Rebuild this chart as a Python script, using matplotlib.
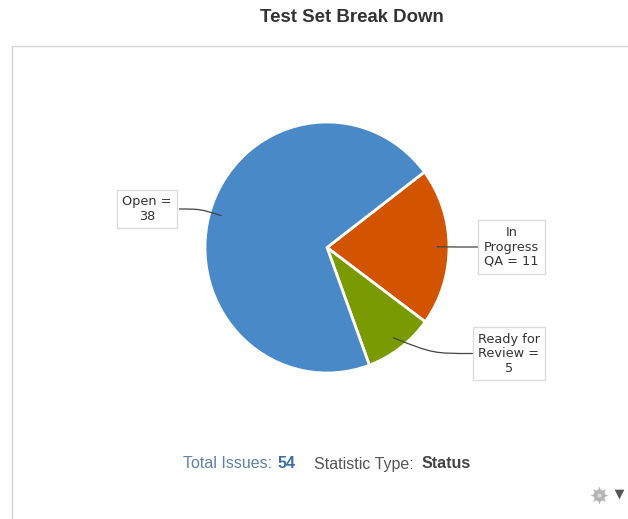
import numpy as np
import matplotlib
matplotlib.use("Agg")
import matplotlib.pyplot as plt
from matplotlib.patches import PathPatch, Rectangle
from matplotlib.path import Path

W, H = 628, 519
statuses = ["In Progress QA", "Ready for Review", "Open"]
counts = [11, 5, 38]
labels = ["In\nProgress\nQA = 11", "Ready for\nReview =\n5", "Open =\n38"]
colors = ["#d35400", "#7a9a01", "#4a89c8"]

# pie bounds in pixels from top left, slightly taller than wide like the reference
left, top, right, bottom = 205, 122, 449, 373
cx, cy = (left + right) / 2, (top + bottom) / 2
rx, ry = (right - left) / 2, (bottom - top) / 2
# label box in pixels from top left: x0, y0, x1, y1
boxes = [(478, 220, 545, 274), (473, 327, 545, 380), (117, 190, 177, 228)]


def py(y):
    return H - y


fig = plt.figure(figsize=(W / 100, H / 100), dpi=100)
ax = fig.add_axes([0, 0, 1, 1])
ax.set_xlim(0, W)
ax.set_ylim(0, H)
ax.axis("off")

ax_pie = fig.add_axes([left / W, py(bottom) / H, (right - left) / W, (bottom - top) / H], zorder=1)
wedges, _ = ax_pie.pie(counts, colors=colors, startangle=37, counterclock=False, radius=1,
                       wedgeprops=dict(edgecolor="white", linewidth=2, clip_on=False))
ax_pie.set_aspect("auto")
ax_pie.set_xlim(-1, 1)
ax_pie.set_ylim(-1, 1)

# top layer for labels and leaders so they sit over the pie
ax_top = fig.add_axes([0, 0, 1, 1], zorder=2)
ax_top.set_xlim(0, W)
ax_top.set_ylim(0, H)
ax_top.axis("off")
ax_top.patch.set_alpha(0)

# panel border, open on the right and the bottom
ax.plot([11.5, 11.5, W], [0, py(46), py(46)], color="#d4d4d4", lw=1)

for w, box, lab in zip(wedges, boxes, labels):
    x0, y0, x1, y1 = box
    ax_top.add_patch(Rectangle((x0, py(y1)), x1 - x0, y1 - y0, fc="white", ec="#dcdcdc", lw=1, zorder=3))
    ax_top.text((x0 + x1) / 2, py((y0 + y1) / 2), lab, ha="center", va="center", color="#333333",
                fontsize=9.3, family="DejaVu Sans", linespacing=1.15, zorder=4)
    # leader starts inside the wedge and bends out to the box
    ang = np.deg2rad((w.theta1 + w.theta2) / 2)
    sx, sy = cx + 0.9 * rx * np.cos(ang), py(cy) + 0.9 * ry * np.sin(ang)
    ex = x0 if sx < x0 else x1 + 2
    ey = py((y0 + y1) / 2)
    mx = (sx + ex) / 2
    path = Path([(sx, sy), (mx, ey), (mx, ey), (ex, ey)], [Path.MOVETO, Path.CURVE4, Path.CURVE4, Path.CURVE4])
    ax_top.add_patch(PathPatch(path, fc="none", ec="#444444", lw=0.9, zorder=2))

sans = "Liberation Sans"
ax.text(352, py(18), "Test Set Break Down", ha="center", va="center", fontsize=13.4,
        fontweight="bold", family=sans, color="#333333")
footer_y = py(464)
ax.text(183, footer_y, "Total Issues:", va="center", fontsize=11.5, family=sans, color="#5d80a8")
ax.text(278, footer_y, "54", va="center", fontsize=11.5, family=sans, fontweight="bold", color="#3f6f9f")
ax.text(314, footer_y, "Statistic Type:", va="center", fontsize=11.5, family=sans, color="#555555")
ax.text(422, footer_y, "Status", va="center", fontsize=11.5, family=sans, fontweight="bold", color="#444444")

# settings gear and dropdown arrow
ax.scatter([599], [py(495)], marker=(8, 1, 0), s=170, color="#b5b5b5", linewidths=0)
ax.scatter([599], [py(495)], marker="o", s=70, color="#b5b5b5", linewidths=0, zorder=3)
ax.scatter([599], [py(495)], marker="o", s=8, color="#dddddd", linewidths=0, zorder=4)
ax.scatter([619], [py(494)], marker="v", s=48, color="#555555", linewidths=0)

fig.savefig("out.png", dpi=100)
